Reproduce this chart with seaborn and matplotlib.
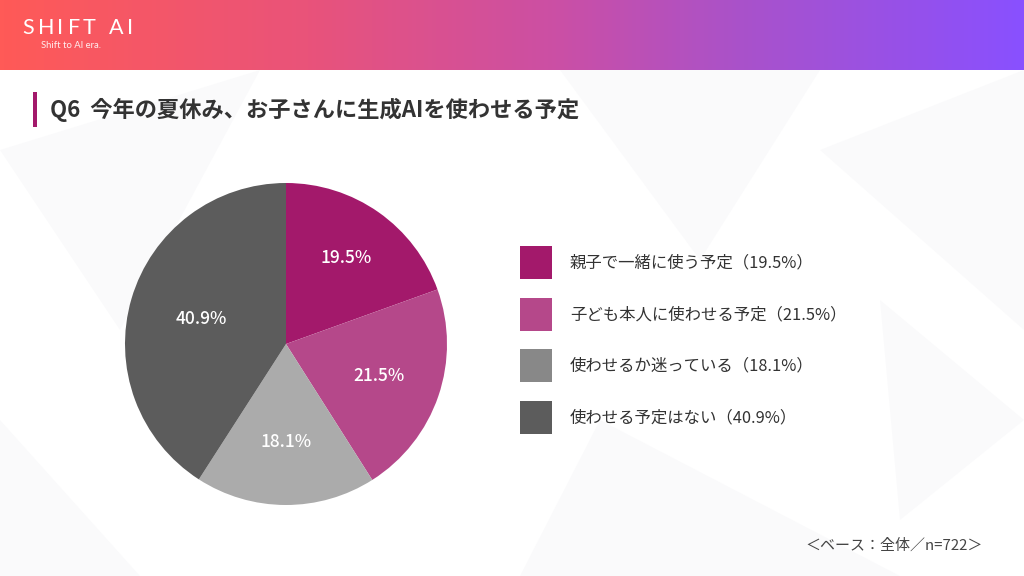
import matplotlib.pyplot as plt
import numpy as np
import seaborn as sns
from matplotlib.colors import LinearSegmentedColormap
from matplotlib.patches import Rectangle, Polygon

# data
categories = ['親子で一緒に使う予定', '子ども本人に使わせる予定', '使わせるか迷っている', '使わせる予定はない']
values = [19.5, 21.5, 18.1, 40.9]
title = 'Q6  今年の夏休み、お子さんに生成AIを使わせる予定'
note = '＜ベース：全体／n=722＞'

sns.set_theme(style='white')
plt.rcParams['font.family'] = ['Noto Sans CJK JP', 'DejaVu Sans']

colors = sns.color_palette(['#A3196B', '#B5488A', '#ABABAB', '#5C5C5C'])
legend_colors = sns.color_palette(['#A3196B', '#B5488A', '#888888', '#5C5C5C'])

W, H = 1024, 576
fig = plt.figure(figsize=(W / 100, H / 100), dpi=100)
fig.patch.set_facecolor('white')

# background axes in pixel coords
bg = fig.add_axes([0, 0, 1, 1])
bg.set_xlim(0, W)
bg.set_ylim(H, 0)
bg.axis('off')

# faint geometric background
for pts in [[(0, 150), (260, 70), (120, 330)], [(560, 70), (820, 70), (700, 260)],
            [(820, 150), (1024, 70), (1024, 330)], [(600, 420), (900, 576), (520, 576)],
            [(880, 300), (1024, 420), (900, 520)], [(0, 420), (140, 576), (0, 576)]]:
    bg.add_patch(Polygon(pts, closed=True, facecolor='#f7f7f9', edgecolor='none', alpha=0.6, zorder=0))

# header gradient
cmap = LinearSegmentedColormap.from_list('hdr', [(0, '#FF5A57'), (0.3, '#E9537A'), (0.55, '#CA4FA6'),
                                                 (0.72, '#AA52C9'), (1, '#8950FF')])
grad = np.linspace(0, 1, 512).reshape(1, -1)
bg.imshow(grad, cmap=cmap, aspect='auto', extent=(0, W, 70, 0), zorder=1)

# logo, letter-spaced
for ch, lx in zip('SHIFTAI', [28, 46, 60, 74, 89, 116, 130]):
    bg.text(lx, 28, ch, color='white', fontsize=15.5, va='center', ha='center',
            family=['Lato', 'DejaVu Sans'], zorder=2)
bg.text(41, 46, 'Shift to AI era.', color='white', fontsize=6.8, va='center', ha='left',
        family=['Lato', 'DejaVu Sans'], alpha=0.9, zorder=2)

# title
bg.add_patch(Rectangle((33, 92), 4, 35, facecolor='#A3196B', edgecolor='none', zorder=2))
bg.text(50, 110, title, color='#333333', fontsize=16, fontweight='bold', va='center', ha='left', zorder=2)

# legend
for i, (cat, val) in enumerate(zip(categories, values)):
    y0 = 246 + i * 51.5
    bg.add_patch(Rectangle((520, y0), 32, 33, facecolor=legend_colors[i], edgecolor='none', zorder=2))
    bg.text(570, y0 + 17, f'{cat}（{val}%）', color='#333333', fontsize=11.8, va='center', ha='left', zorder=2)

bg.text(983, 546, note, color='#444444', fontsize=10.8, va='center', ha='right', zorder=2)

# pie
cx, cy, r = 286, 344, 161
ax = fig.add_axes([(cx - r) / W, (H - cy - r) / H, 2 * r / W, 2 * r / H])
wedges, texts = ax.pie(values, colors=colors, startangle=90, counterclock=False,
                       wedgeprops=dict(linewidth=0))
ax.set_xlim(-1, 1)
ax.set_ylim(-1, 1)
label_dist = [0.65, 0.61, 0.61, 0.55]
for w, val, d in zip(wedges, values, label_dist):
    ang = np.deg2rad((w.theta1 + w.theta2) / 2)
    ax.text(d * np.cos(ang), d * np.sin(ang), f'{val}%', color='white', fontsize=12.5,
            fontweight='medium', ha='center', va='center')

fig.savefig('out.png', dpi=100)
